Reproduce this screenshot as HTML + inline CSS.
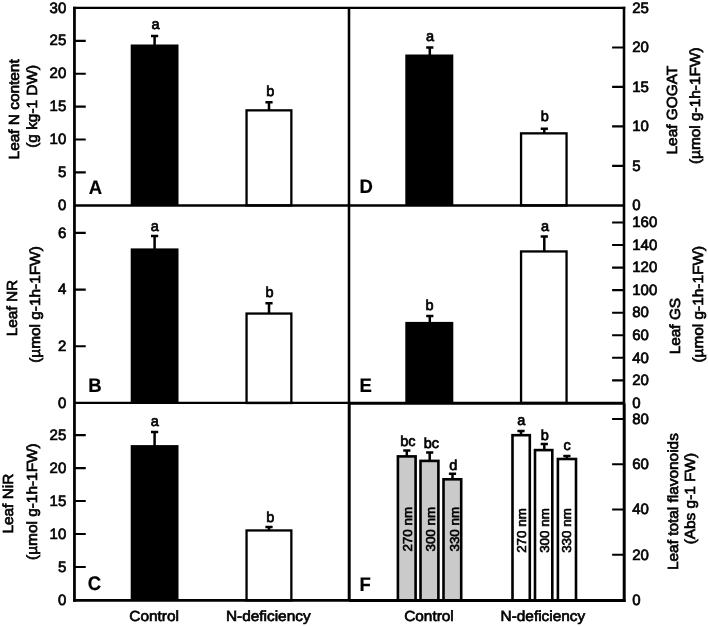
<!DOCTYPE html>
<html><head><meta charset="utf-8"><title>Leaf nitrogen metabolism under N deficiency</title><style>
html,body{margin:0;padding:0;background:#fff;}
svg{display:block;filter:grayscale(1);font-family:"Liberation Sans",sans-serif;font-size:15.4px;fill:#000;}
text{stroke:#000;stroke-width:0.7px;text-rendering:geometricPrecision;}
</style></head><body>
<svg width="708" height="626" viewBox="0 0 708 626">
<rect width="708" height="626" fill="#fff"/>
<path d="M74.45 172.42h11.3M74.45 139.53h11.3M74.45 106.65h11.3M74.45 73.77h11.3M74.45 40.88h11.3" stroke="#000" stroke-width="2.1"/>
<text transform="translate(66.25 209.90)" text-anchor="end" font-size="15.0">0</text>
<text transform="translate(66.25 177.02)" text-anchor="end" font-size="15.0">5</text>
<text transform="translate(66.25 144.13)" text-anchor="end" font-size="15.0">10</text>
<text transform="translate(66.25 111.25)" text-anchor="end" font-size="15.0">15</text>
<text transform="translate(66.25 78.37)" text-anchor="end" font-size="15.0">20</text>
<text transform="translate(66.25 45.48)" text-anchor="end" font-size="15.0">25</text>
<text transform="translate(66.25 12.60)" text-anchor="end" font-size="15.0">30</text>
<path d="M74.45 346.24h11.3M74.45 289.58h11.3M74.45 232.92h11.3" stroke="#000" stroke-width="2.1"/>
<text transform="translate(66.25 407.50)" text-anchor="end" font-size="15.0">0</text>
<text transform="translate(66.25 350.84)" text-anchor="end" font-size="15.0">2</text>
<text transform="translate(66.25 294.18)" text-anchor="end" font-size="15.0">4</text>
<text transform="translate(66.25 237.52)" text-anchor="end" font-size="15.0">6</text>
<path d="M74.45 567.02h11.3M74.45 534.05h11.3M74.45 501.07h11.3M74.45 468.10h11.3M74.45 435.12h11.3" stroke="#000" stroke-width="2.1"/>
<text transform="translate(66.25 604.60)" text-anchor="end" font-size="15.0">0</text>
<text transform="translate(66.25 571.62)" text-anchor="end" font-size="15.0">5</text>
<text transform="translate(66.25 538.65)" text-anchor="end" font-size="15.0">10</text>
<text transform="translate(66.25 505.68)" text-anchor="end" font-size="15.0">15</text>
<text transform="translate(66.25 472.70)" text-anchor="end" font-size="15.0">20</text>
<text transform="translate(66.25 439.73)" text-anchor="end" font-size="15.0">25</text>
<path d="M624.0 165.84h-11.9M624.0 126.38h-11.9M624.0 86.92h-11.9M624.0 47.46h-11.9" stroke="#000" stroke-width="2.1"/>
<text transform="translate(632.20 210.05)" font-size="15.0">0</text>
<text transform="translate(632.20 170.59)" font-size="15.0">5</text>
<text transform="translate(632.20 131.13)" font-size="15.0">10</text>
<text transform="translate(632.20 91.67)" font-size="15.0">15</text>
<text transform="translate(632.20 52.21)" font-size="15.0">20</text>
<text transform="translate(632.20 12.75)" font-size="15.0">25</text>
<path d="M624.0 380.35h-11.9M624.0 357.80h-11.9M624.0 335.25h-11.9M624.0 312.70h-11.9M624.0 290.15h-11.9M624.0 267.60h-11.9M624.0 245.05h-11.9M624.0 222.50h-11.9" stroke="#000" stroke-width="2.1"/>
<text transform="translate(632.20 407.65)" font-size="15.0">0</text>
<text transform="translate(632.20 385.10)" font-size="15.0">20</text>
<text transform="translate(632.20 362.55)" font-size="15.0">40</text>
<text transform="translate(632.20 340.00)" font-size="15.0">60</text>
<text transform="translate(632.20 317.45)" font-size="15.0">80</text>
<text transform="translate(632.20 294.90)" font-size="15.0">100</text>
<text transform="translate(632.20 272.35)" font-size="15.0">120</text>
<text transform="translate(632.20 249.80)" font-size="15.0">140</text>
<text transform="translate(632.20 227.25)" font-size="15.0">160</text>
<path d="M624.0 554.75h-11.9M624.0 509.50h-11.9M624.0 464.25h-11.9M624.0 419.00h-11.9" stroke="#000" stroke-width="2.1"/>
<text transform="translate(632.20 604.75)" font-size="15.0">0</text>
<text transform="translate(632.20 559.50)" font-size="15.0">20</text>
<text transform="translate(632.20 514.25)" font-size="15.0">40</text>
<text transform="translate(632.20 469.00)" font-size="15.0">60</text>
<text transform="translate(632.20 423.75)" font-size="15.0">80</text>
<rect x="130.7" y="44.5" width="47.80" height="160.90" fill="#000"/>
<path d="M154.6 45.5V35.9M151.0 35.9h7.2" stroke="#000" stroke-width="2.5"/>
<text transform="translate(155.50 29.40)" text-anchor="middle" font-size="14.5">a</text>
<rect x="246.55" y="110.35" width="44.80" height="95.05" fill="#fff" stroke="#000" stroke-width="2.3"/>
<path d="M269.0 110.2V102.3M265.4 102.3h7.2" stroke="#000" stroke-width="2.5"/>
<text transform="translate(270.20 96.20)" text-anchor="middle" font-size="14.5">b</text>
<rect x="130.7" y="248.4" width="47.80" height="154.60" fill="#000"/>
<path d="M154.6 249.4V236.1M151.0 236.1h7.2" stroke="#000" stroke-width="2.5"/>
<text transform="translate(154.80 230.50)" text-anchor="middle" font-size="14.5">a</text>
<rect x="246.55" y="313.55" width="44.80" height="89.45" fill="#fff" stroke="#000" stroke-width="2.3"/>
<path d="M269.0 313.4V303.2M265.4 303.2h7.2" stroke="#000" stroke-width="2.5"/>
<text transform="translate(269.60 296.80)" text-anchor="middle" font-size="14.5">b</text>
<rect x="130.7" y="445.1" width="47.80" height="155.30" fill="#000"/>
<path d="M154.6 446.1V432.0M151.0 432.0h7.2" stroke="#000" stroke-width="2.5"/>
<text transform="translate(154.80 425.50)" text-anchor="middle" font-size="14.5">a</text>
<rect x="246.55" y="530.45" width="44.80" height="69.95" fill="#fff" stroke="#000" stroke-width="2.3"/>
<path d="M269.0 530.3V527.0M265.4 527.0h7.2" stroke="#000" stroke-width="2.5"/>
<text transform="translate(270.40 522.00)" text-anchor="middle" font-size="14.5">b</text>
<rect x="405.3" y="54.5" width="48.00" height="150.90" fill="#000"/>
<path d="M429.8 55.5V47.4M426.2 47.4h7.2" stroke="#000" stroke-width="2.5"/>
<text transform="translate(430.00 41.10)" text-anchor="middle" font-size="14.5">a</text>
<rect x="521.05" y="133.35" width="45.50" height="72.05" fill="#fff" stroke="#000" stroke-width="2.3"/>
<path d="M544.3 133.2V128.8M540.6999999999999 128.8h7.2" stroke="#000" stroke-width="2.5"/>
<text transform="translate(544.90 121.30)" text-anchor="middle" font-size="14.5">b</text>
<rect x="405.3" y="321.9" width="48.00" height="81.10" fill="#000"/>
<path d="M429.8 322.9V315.9M426.2 315.9h7.2" stroke="#000" stroke-width="2.5"/>
<text transform="translate(429.60 310.10)" text-anchor="middle" font-size="14.5">b</text>
<rect x="521.05" y="251.45" width="45.50" height="151.55" fill="#fff" stroke="#000" stroke-width="2.3"/>
<path d="M544.3 251.3V236.4M540.6999999999999 236.4h7.2" stroke="#000" stroke-width="2.5"/>
<text transform="translate(545.10 231.30)" text-anchor="middle" font-size="14.5">a</text>
<rect x="397.90" y="456.40" width="17.70" height="144.00" fill="#cacaca" stroke="#000" stroke-width="2.6"/>
<path d="M406.8 456.1V450.5M403.2 450.5h7.2" stroke="#000" stroke-width="2.5"/>
<text transform="translate(407.80 445.60)" text-anchor="middle" font-size="14.5">bc</text>
<rect x="420.50" y="460.90" width="17.90" height="139.50" fill="#cacaca" stroke="#000" stroke-width="2.6"/>
<path d="M429.7 460.6V452.4M426.09999999999997 452.4h7.2" stroke="#000" stroke-width="2.5"/>
<text transform="translate(431.30 447.90)" text-anchor="middle" font-size="14.5">bc</text>
<rect x="443.50" y="479.30" width="17.70" height="121.10" fill="#cacaca" stroke="#000" stroke-width="2.6"/>
<path d="M452.5 479.0V473.7M448.9 473.7h7.2" stroke="#000" stroke-width="2.5"/>
<text transform="translate(453.20 469.90)" text-anchor="middle" font-size="14.5">d</text>
<rect x="512.50" y="435.20" width="17.30" height="165.20" fill="#fff" stroke="#000" stroke-width="2.6"/>
<path d="M521.0 434.9V431.1M517.4 431.1h7.2" stroke="#000" stroke-width="2.5"/>
<text transform="translate(521.30 425.20)" text-anchor="middle" font-size="14.5">a</text>
<rect x="535.00" y="450.10" width="17.30" height="150.30" fill="#fff" stroke="#000" stroke-width="2.6"/>
<path d="M544.3 449.8V444.1M540.6999999999999 444.1h7.2" stroke="#000" stroke-width="2.5"/>
<text transform="translate(544.80 440.30)" text-anchor="middle" font-size="14.5">b</text>
<rect x="557.90" y="459.00" width="18.10" height="141.40" fill="#fff" stroke="#000" stroke-width="2.6"/>
<path d="M566.9 458.7V456.0M563.3 456.0h7.2" stroke="#000" stroke-width="2.5"/>
<text transform="translate(567.00 450.10)" text-anchor="middle" font-size="14.5">c</text>
<path d="M73.15 7.83H625.3" stroke="#000" stroke-width="2.25"/>
<path d="M74.45 205.4H624.0" stroke="#000" stroke-width="2.45"/>
<path d="M74.45 402.85H349.0" stroke="#000" stroke-width="2.3"/>
<path d="M349.0 403.2H624.0" stroke="#000" stroke-width="3.0"/>
<path d="M73.15 600.4H349.0" stroke="#000" stroke-width="2.7"/>
<path d="M349.0 600.45H625.5" stroke="#000" stroke-width="3.1"/>
<path d="M74.45 6.7V601.75" stroke="#000" stroke-width="2.76"/>
<path d="M349.0 7.83V403.2" stroke="#000" stroke-width="2.57"/>
<path d="M349.2 403.2V600.45" stroke="#000" stroke-width="3.0"/>
<path d="M624.0 6.7V403.2" stroke="#000" stroke-width="2.57"/>
<path d="M624.2 403.2V602.0" stroke="#000" stroke-width="3.0"/>
<text transform="translate(411.80 529.20) rotate(-90) scale(1 0.96)" text-anchor="middle" font-size="13.4" style="stroke-width:0.65px">270 nm</text>
<text transform="translate(435.00 529.20) rotate(-90) scale(1 0.96)" text-anchor="middle" font-size="13.4" style="stroke-width:0.65px">300 nm</text>
<text transform="translate(458.90 529.20) rotate(-90) scale(1 0.96)" text-anchor="middle" font-size="13.4" style="stroke-width:0.65px">330 nm</text>
<text transform="translate(526.20 530.50) rotate(-90) scale(1 0.96)" text-anchor="middle" font-size="13.4" style="stroke-width:0.65px">270 nm</text>
<text transform="translate(549.10 530.50) rotate(-90) scale(1 0.96)" text-anchor="middle" font-size="13.4" style="stroke-width:0.65px">300 nm</text>
<text transform="translate(571.00 530.50) rotate(-90) scale(1 0.96)" text-anchor="middle" font-size="13.4" style="stroke-width:0.65px">330 nm</text>
<text transform="translate(88.70 193.50) scale(1 1.06)" font-size="18.5" font-weight="bold" style="stroke-width:0.2px">A</text>
<text transform="translate(88.20 391.80) scale(1 1.06)" font-size="18.5" font-weight="bold" style="stroke-width:0.2px">B</text>
<text transform="translate(87.80 590.30) scale(1 1.06)" font-size="18.5" font-weight="bold" style="stroke-width:0.2px">C</text>
<text transform="translate(359.40 193.40) scale(1 1.06)" font-size="18.5" font-weight="bold" style="stroke-width:0.2px">D</text>
<text transform="translate(359.40 392.40) scale(1 1.06)" font-size="18.5" font-weight="bold" style="stroke-width:0.2px">E</text>
<text transform="translate(359.60 590.50) scale(1 1.06)" font-size="18.5" font-weight="bold" style="stroke-width:0.2px">F</text>
<text transform="translate(154.17 621.20) scale(1 0.95)" text-anchor="middle">Control</text>
<text transform="translate(268.27 621.20) scale(1 0.95)" text-anchor="middle">N-deficiency</text>
<text transform="translate(428.97 621.20) scale(1 0.95)" text-anchor="middle">Control</text>
<text transform="translate(542.87 621.20) scale(1 0.95)" text-anchor="middle">N-deficiency</text>
<text transform="translate(18.77 109.37) rotate(-90) scale(1 0.95)" text-anchor="middle">Leaf N content</text>
<text transform="translate(37.10 106.36) rotate(-90) scale(1 0.95)" text-anchor="middle">(g kg-1 DW)</text>
<text transform="translate(17.18 308.06) rotate(-90) scale(1 0.95)" text-anchor="middle">Leaf NR</text>
<text transform="translate(39.64 304.54) rotate(-90) scale(1 0.95)" text-anchor="middle">(µmol g-1h-1FW)</text>
<text transform="translate(13.26 503.64) rotate(-90) scale(1 0.95)" text-anchor="middle">Leaf NiR</text>
<text transform="translate(36.69 501.57) rotate(-90) scale(1 0.95)" text-anchor="middle">(µmol g-1h-1FW)</text>
<text transform="translate(677.08 110.16) rotate(-90) scale(1 0.95)" text-anchor="middle">Leaf GOGAT</text>
<text transform="translate(699.56 105.72) rotate(-90) scale(1 0.95)" text-anchor="middle">(µmol g-1h-1FW)</text>
<text transform="translate(679.94 326.11) rotate(-90) scale(1 0.95)" text-anchor="middle">Leaf GS</text>
<text transform="translate(702.55 304.26) rotate(-90) scale(1 0.95)" text-anchor="middle">(µmol g-1h-1FW)</text>
<text transform="translate(678.07 501.59) rotate(-90) scale(1 0.95)" text-anchor="middle">Leaf total flavonoids</text>
<text transform="translate(694.72 498.58) rotate(-90) scale(1 0.95)" text-anchor="middle">(Abs g-1 FW)</text>
</svg>
</body></html>
